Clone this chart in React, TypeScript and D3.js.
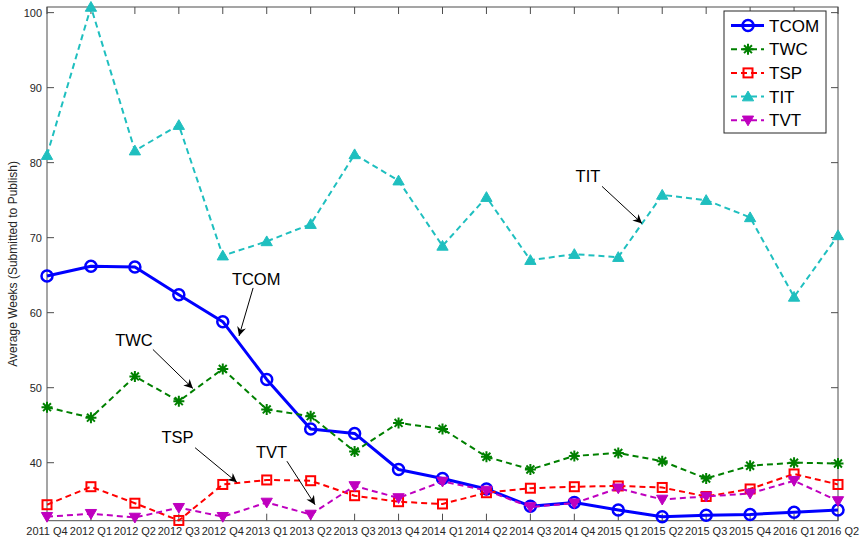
import React from 'react'
import * as d3 from 'd3'

const quarters = [
  '2011 Q4', '2012 Q1', '2012 Q2', '2012 Q3', '2012 Q4',
  '2013 Q1', '2013 Q2', '2013 Q3', '2013 Q4',
  '2014 Q1', '2014 Q2', '2014 Q3', '2014 Q4',
  '2015 Q1', '2015 Q2', '2015 Q3', '2015 Q4',
  '2016 Q1', '2016 Q2',
]

const tcom = [64.9, 66.2, 66.1, 62.4, 58.8, 51.1, 44.5, 43.9, 39.1, 37.9, 36.5, 34.2, 34.7, 33.7, 32.8, 33.0, 33.1, 33.4, 33.7]
const twc = [47.4, 46.0, 51.5, 48.2, 52.5, 47.1, 46.2, 41.5, 45.3, 44.5, 40.8, 39.1, 40.9, 41.3, 40.2, 37.9, 39.6, 40.0, 39.9]
const tsp = [34.4, 36.8, 34.6, 32.3, 37.1, 37.7, 37.6, 35.6, 34.8, 34.5, 36.0, 36.6, 36.8, 36.9, 36.7, 35.5, 36.5, 38.5, 37.1]
const tit = [81.0, 100.75, 81.6, 85.0, 67.6, 69.5, 71.8, 81.1, 77.6, 68.9, 75.4, 67.0, 67.8, 67.4, 75.7, 75.0, 72.7, 62.1, 70.3]
const tvt = [32.8, 33.2, 32.7, 34.0, 32.8, 34.7, 33.1, 36.9, 35.3, 37.5, 36.3, 34.1, 34.6, 36.6, 35.1, 35.5, 35.9, 37.6, 34.9]

const yTicks = [40, 50, 60, 70, 80, 90, 100]

// annotations in data space: [label, textIdx, textVal, fromIdx, fromVal, toIdx, toVal]
const notes: [string, number, number, number, number, number, number][] = [
  ['TCOM', 4.76, 63.64, 4.69, 63.3, 4.37, 56.9],
  ['TWC', 1.98, 55.52, 2.41, 55.1, 3.32, 49.9],
  ['TSP', 2.97, 42.57, 3.37, 42.0, 4.32, 37.4],
  ['TVT', 5.11, 40.57, 5.46, 40.2, 6.1, 34.4],
  ['TIT', 12.31, 77.37, 12.63, 76.84, 13.54, 71.9],
]

const series = [
  { name: 'TCOM', values: tcom, color: '#0000ff', dash: null, width: 3, marker: 'circle' },
  { name: 'TWC', values: twc, color: '#008000', dash: '6,4', width: 2, marker: 'star' },
  { name: 'TSP', values: tsp, color: '#ff0000', dash: '6,4', width: 2, marker: 'square' },
  { name: 'TIT', values: tit, color: '#1fbfbf', dash: '6,4', width: 2, marker: 'up' },
  { name: 'TVT', values: tvt, color: '#bf00bf', dash: '6,4', width: 2, marker: 'down' },
]

const font = 'Arial, "Liberation Sans", sans-serif'

function Marker({ type, x, y, color }: { type: string; x: number; y: number; color: string }) {
  if (type === 'circle') {
    return <circle cx={x} cy={y} r={5.5} fill="none" stroke={color} strokeWidth={2.5} />
  }
  if (type === 'square') {
    return <rect x={x - 4.5} y={y - 4.5} width={9} height={9} fill="none" stroke={color} strokeWidth={2} />
  }
  if (type === 'star') {
    const r = 5.5
    const d = r * 0.72
    const p = `M${x - r},${y}L${x + r},${y}M${x},${y - r}L${x},${y + r}M${x - d},${y - d}L${x + d},${y + d}M${x - d},${y + d}L${x + d},${y - d}`
    return <path d={p} stroke={color} strokeWidth={2} fill="none" />
  }
  const tri = d3.symbol().type(d3.symbolTriangle).size(55)()
  const rot = type === 'down' ? 180 : 0
  return <path d={tri || ''} transform={`translate(${x},${y + (type === 'down' ? -1 : 1)}) rotate(${rot})`} fill={color} stroke={color} strokeWidth={1} />
}

const App = () => {
  const width = 860
  const height = 538
  const left = 47, right = 838, top = 7, bottom = 520.7

  const x = d3.scalePoint<string>().domain(quarters).range([left, right]).padding(0)
  const y = d3.scaleLinear().domain([32.27, 100.75]).range([bottom, top])
  const xi = d3.scaleLinear().domain([0, quarters.length - 1]).range([left, right])

  const line = d3.line<number>()
    .x((_, i) => x(quarters[i]) as number)
    .y(d => y(d))

  const axisColor = '#4d4d4d'
  const tickLen = 7

  return (
    <svg width={width} height={height} style={{ position: 'absolute', left: 0, top: 0, background: '#fff' }} fontFamily={font}>
      <defs>
        <marker id="arr" viewBox="0 0 10 10" refX="10" refY="5" markerWidth="10" markerHeight="9" orient="auto" markerUnits="userSpaceOnUse">
          <path d="M0,0 L10,5 L0,10 L3,5 Z" fill="#000" />
        </marker>
      </defs>

      {/* axes box */}
      <rect x={left} y={top} width={right - left} height={bottom - top} fill="none" stroke={axisColor} strokeWidth={1} />

      {quarters.map(q => (
        <g key={q}>
          <line x1={x(q)} x2={x(q)} y1={bottom} y2={bottom - tickLen} stroke={axisColor} />
          <line x1={x(q)} x2={x(q)} y1={top} y2={top + tickLen} stroke={axisColor} />
          <text x={x(q)} y={535} textAnchor="middle" fontSize={11} fill="#262626">{q}</text>
        </g>
      ))}

      {yTicks.map(t => (
        <g key={t}>
          <line x1={left} x2={left + tickLen} y1={y(t)} y2={y(t)} stroke={axisColor} />
          <line x1={right} x2={right - tickLen} y1={y(t)} y2={y(t)} stroke={axisColor} />
          <text x={left - 5} y={y(t) + 4} textAnchor="end" fontSize={11} fill="#262626">{t}</text>
        </g>
      ))}

      <text transform={`translate(17,${(top + bottom) / 2}) rotate(-90)`} textAnchor="middle" fontSize={12} fill="#262626">
        Average Weeks (Submitted to Publish)
      </text>

      {/* series */}
      {series.map(s => (
        <g key={s.name}>
          <path d={line(s.values) || ''} fill="none" stroke={s.color} strokeWidth={s.width}
            strokeDasharray={s.dash || undefined} strokeLinejoin="round" />
          {s.values.map((v, i) => (
            <Marker key={i} type={s.marker} x={x(quarters[i]) as number} y={y(v)} color={s.color} />
          ))}
        </g>
      ))}

      {/* annotations */}
      {notes.map(([label, tx, ty, fx, fy, ax, ay]) => (
        <g key={label}>
          <text x={xi(tx)} y={y(ty)} textAnchor="middle" fontSize={16.5} fill="#000">{label}</text>
          <line x1={xi(fx)} y1={y(fy)} x2={xi(ax)} y2={y(ay)} stroke="#000" strokeWidth={1} markerEnd="url(#arr)" />
        </g>
      ))}

      {/* legend */}
      <g>
        <rect x={724} y={11} width={102} height={122} fill="#fff" stroke="#262626" strokeWidth={1} />
        {series.map((s, i) => {
          const ly = 25.5 + i * 23.7
          return (
            <g key={s.name}>
              <line x1={731} x2={764} y1={ly} y2={ly} stroke={s.color} strokeWidth={s.width} strokeDasharray={s.dash || undefined} />
              <Marker type={s.marker} x={748} y={ly} color={s.color} />
              <text x={769} y={ly + 6} fontSize={17} fill="#000">{s.name}</text>
            </g>
          )
        })}
      </g>
    </svg>
  )
}

export default App
